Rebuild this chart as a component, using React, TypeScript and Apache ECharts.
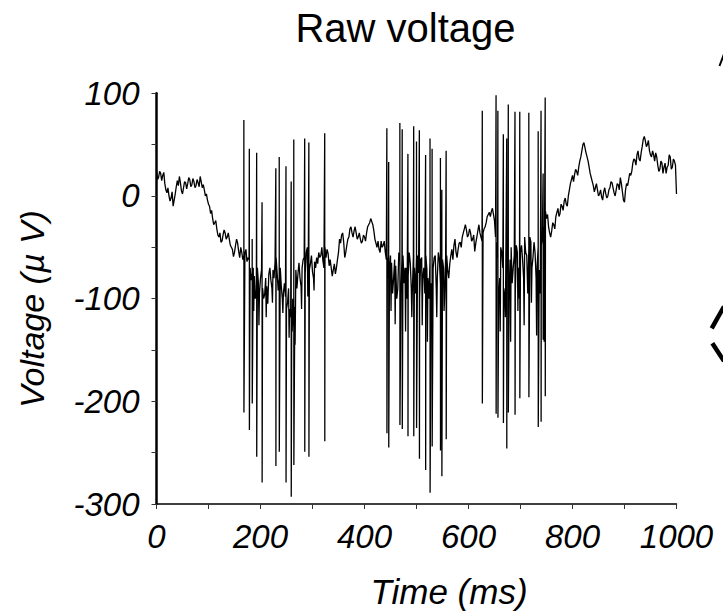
import React, { useEffect, useRef } from "react";
import * as echarts from "echarts";

// Baseline trace, [time ms, voltage µV]
const baseline: [number, number][] = [
  [0, 25], [4, 18], [8, 22], [12, 20], [16, 12], [20, 3], [24, 0], [28, -2], [32, -10], [36, 2],
  [40, 15], [44, 19], [48, 5], [52, 8], [56, 13], [60, 12], [64, 16], [68, 11], [72, 14], [76, 10],
  [80, 13], [84, 19], [88, 8], [92, 6], [96, 2], [100, -8], [104, -17], [108, -22], [112, -26], [116, -32],
  [120, -40], [124, -45], [128, -38], [132, -36], [136, -40], [140, -42], [144, -50], [148, -59], [152, -48], [156, -46],
  [160, -60], [164, -55], [168, -58], [172, -52], [176, -60], [180, -70], [184, -75], [188, -78], [192, -92], [196, -85],
  [200, -80], [204, -90], [208, -96], [212, -88], [216, -76], [220, -82], [224, -72], [228, -64], [232, -75], [236, -80],
  [240, -88], [244, -95], [248, -98], [252, -104], [256, -110], [260, -122], [264, -128], [268, -72], [272, -76], [276, -80],
  [280, -70], [284, -60], [288, -55], [292, -58], [296, -66], [300, -74], [304, -64], [308, -60], [312, -55], [316, -58],
  [320, -63], [324, -50], [328, -52], [332, -68], [336, -70], [340, -72], [344, -76], [348, -62], [352, -42], [356, -38],
  [360, -45], [364, -55], [368, -42], [372, -32], [376, -36], [380, -34], [384, -36], [388, -40], [392, -42], [396, -44],
  [400, -40], [404, -36], [408, -28], [412, -22], [416, -28], [420, -42], [424, -50], [428, -52], [432, -44], [436, -48],
  [440, -55], [444, -60], [448, -72], [452, -65], [456, -80], [460, -68], [464, -90], [468, -60], [472, -62], [476, -85],
  [480, -70], [484, -78], [488, -65], [492, -92], [496, -70], [500, -60], [504, -75], [508, -62], [512, -80], [516, -95],
  [520, -72], [524, -100], [528, -85], [532, -70], [536, -58], [540, -80], [544, -62], [548, -95], [552, -70], [556, -60],
  [560, -72], [564, -66], [568, -52], [572, -48], [576, -55], [580, -52], [584, -45], [588, -40], [592, -32], [596, -33],
  [600, -38], [604, -36], [608, -42], [612, -54], [616, -40], [620, -28], [624, -40], [628, -36], [632, -30], [636, -20],
  [640, -16], [644, -15], [648, -18], [652, -40], [656, -60], [660, -80], [664, -55], [668, -90], [672, -50], [676, -75],
  [680, -62], [684, -85], [688, -58], [692, -48], [696, -70], [700, -55], [704, -62], [708, -40], [712, -58], [716, -52],
  [720, -45], [724, -60], [728, -55], [732, -68], [736, -72], [740, -48], [744, -30], [748, -15], [752, -18], [756, -36],
  [760, -34], [764, -28], [768, -20], [772, -12], [776, -17], [780, -10], [784, -5], [788, -8], [792, 0], [796, 12],
  [800, 20], [804, 21], [808, 24], [812, 28], [816, 38], [820, 50], [824, 47], [828, 38], [832, 28], [836, 18],
  [840, 10], [844, 8], [848, 6], [852, 2], [856, -1], [860, 4], [864, 2], [868, 0], [872, 8], [876, 13],
  [880, 3], [884, 6], [888, 11], [892, 18], [896, 4], [900, -6], [904, 12], [908, 16], [912, 20], [916, 32],
  [920, 35], [924, 40], [928, 36], [932, 42], [936, 55], [940, 54], [944, 50], [948, 44], [952, 38], [956, 40],
  [960, 42], [964, 30], [968, 26], [972, 32], [976, 28], [980, 22], [984, 30], [988, 38], [992, 28], [996, 34],
  [998, 30], [1000, 2],
];

// In-between samples (t = 2, 6, 10, ... ms), the fast noise of the trace, [time ms, voltage µV]
const fineNoise: [number, number][] = [
  [2, 16], [6, 24], [10, 15], [14, 23], [18, 6], [22, 8], [26, -5], [30, 4], [34, -4], [38, 9],
  [42, 10], [46, 13], [50, 2], [54, 14], [58, 7], [62, 18], [66, 9], [70, 17], [74, 8], [78, 16],
  [82, 9], [86, 14], [90, 11], [94, 0], [98, -4], [102, -10], [106, -14], [110, -28], [114, -24], [118, -38],
  [122, -36], [126, -44], [130, -33], [134, -42], [138, -36], [142, -48], [146, -52], [150, -55], [154, -42], [158, -54],
  [162, -50], [166, -62], [170, -56], [174, -64], [178, -62], [182, -82], [186, -70], [190, -100], [194, -70], [198, -95],
  [202, -72], [206, -100], [210, -80], [214, -105], [218, -70], [222, -90], [226, -80], [230, -60], [234, -92], [238, -70],
  [242, -100], [246, -85], [250, -110], [254, -90], [258, -118], [262, -100], [266, -108], [270, -90], [274, -65], [278, -88],
  [282, -62], [286, -75], [290, -50], [294, -72], [298, -58], [302, -80], [306, -70], [310, -66], [314, -60], [318, -50],
  [322, -70], [326, -60], [330, -56], [334, -62], [338, -78], [342, -66], [346, -70], [350, -55], [354, -46], [358, -36],
  [362, -60], [366, -48], [370, -40], [374, -30], [378, -40], [382, -30], [386, -42], [390, -36], [394, -46], [398, -38],
  [402, -44], [406, -30], [410, -26], [414, -25], [418, -34], [422, -46], [426, -44], [430, -55], [434, -50], [438, -44],
  [442, -62], [446, -80], [450, -58], [454, -95], [458, -62], [462, -100], [466, -55], [470, -95], [474, -58], [478, -70],
  [482, -100], [486, -55], [490, -90], [494, -60], [498, -95], [502, -58], [506, -100], [510, -60], [514, -70], [518, -58],
  [522, -80], [526, -62], [530, -105], [534, -60], [538, -90], [542, -55], [546, -85], [550, -62], [554, -100], [558, -58],
  [562, -80], [566, -58], [570, -62], [574, -42], [578, -60], [582, -46], [586, -50], [590, -36], [594, -28], [598, -40],
  [602, -32], [606, -44], [610, -38], [614, -46], [618, -34], [622, -36], [626, -44], [630, -32], [634, -26], [638, -18],
  [642, -20], [646, -12], [650, -24], [654, -45], [658, -100], [662, -50], [666, -70], [670, -100], [674, -60], [678, -95],
  [682, -50], [686, -70], [690, -95], [694, -55], [698, -100], [702, -48], [706, -80], [710, -55], [714, -95], [718, -40],
  [722, -70], [726, -45], [730, -80], [734, -50], [738, -95], [742, -40], [746, -60], [750, -22], [754, -30], [758, -40],
  [762, -26], [766, -32], [770, -16], [774, -20], [778, -8], [782, -14], [786, -2], [790, -10], [794, 6], [798, 16],
  [802, 14], [806, 26], [810, 20], [814, 34], [818, 44], [822, 52], [826, 42], [830, 34], [834, 22], [838, 14],
  [842, 4], [846, 12], [850, 0], [854, 6], [858, -4], [862, 8], [866, -2], [870, 6], [874, 14], [878, 8],
  [882, 0], [886, 12], [890, 6], [894, 12], [898, -4], [902, 6], [906, 10], [910, 22], [914, 24], [918, 36],
  [922, 30], [926, 44], [930, 34], [934, 48], [938, 58], [942, 48], [946, 54], [950, 40], [954, 44], [958, 34],
  [962, 38], [966, 24], [970, 34], [974, 22], [978, 32], [982, 28], [986, 40], [990, 26], [994, 36],
];

// Small downward deflections inside the bursts, [time ms, voltage µV]
const minorSpikes: [number, number][] = [
  [187, -112], [197, -126], [211, -118], [223, -104], [243, -114], [255, -138], [261, -132], [266.5, -145],
  [279, -110], [291, -98], [303, -92],
  [451, -112], [459, -125], [479, -132], [491, -118], [511, -126], [521, -142], [539, -118], [553, -112],
  [661, -132], [671, -118], [681, -142], [695, -112], [707, -126], [721, -104], [731, -136], [745.5, -142],
];

// Action potentials, [time ms, peak µV, trough µV]
const spikes: [number, number, number][] = [
  [168, 74, -211], [178.5, 46, -228], [184, -42, -202], [192.6, 42, -254], [203, -6, -279],
  [229.5, 27, -263], [236, 38, -249], [249, 29, -279], [259, 14, -293], [264, 55, -262],
  [285, 56, -249], [293, 52, -254], [323.5, 61, -239],
  [443, 66, -231], [446.5, 33, -245], [468, 71, -223], [472.5, 65, -227], [483.5, 41, -234],
  [494.6, 68, -234], [500, 53, -226], [505.5, 64, -256], [517.5, 40, -267], [526, 56, -289],
  [530, 46, -244], [546, 37, -248], [548.7, 6, -273], [557, 44, -237],
  [626.5, 83, -202], [653, 98, -212], [656.5, 83, -216], [667, 60, -221], [673.5, 56, -246],
  [676.5, 89, -211], [689.4, 82, -213], [698.6, 82, -197], [716, 81, -196], [734, 63, -225],
  [739.5, 83, -220], [743.5, 22, -140], [747.5, 96, -195],
];

const xTicks = { min: 0, max: 1000, step: 100, labelEvery: 200 };
const yTicks = { min: -300, max: 100, step: 50, labelEvery: 100 };

function buildTrace(): [number, number][] {
  const pts: [number, number][] = [];
  baseline.forEach((p) => pts.push([p[0], p[1]]));
  fineNoise.forEach((p) => pts.push([p[0], p[1]]));
  minorSpikes.forEach((p) => pts.push([p[0], p[1]]));
  spikes.forEach((s) => {
    pts.push([s[0], s[1]]);
    pts.push([s[0] + 0.15, s[2]]);
  });
  return pts.sort((a, b) => a[0] - b[0]);
}

const FONT = "'Liberation Sans', Arial, Helvetica, sans-serif";

export default function App() {
  const ref = useRef<HTMLDivElement>(null);
  useEffect(() => {
    if (!ref.current) return;
    const chart = echarts.init(ref.current, null, { renderer: "svg" });
    const tickLabel = {
      fontSize: 33,
      fontStyle: "italic" as const,
      fontFamily: FONT,
      color: "#000",
    };
    chart.setOption({
      animation: false,
      backgroundColor: "#fff",
      grid: { left: 156.5, right: 46.5, top: 93.3, bottom: 110 },
      xAxis: {
        type: "value",
        min: xTicks.min,
        max: xTicks.max,
        interval: xTicks.step,
        axisLine: { show: true, onZero: false, lineStyle: { color: "#000", width: 1.5 } },
        axisTick: { show: true, length: 5, lineStyle: { color: "#333", width: 1 } },
        splitLine: { show: false },
        axisLabel: {
          ...tickLabel,
          margin: 16,
          showMinLabel: true,
          showMaxLabel: true,
          formatter: (v: number) => (v % xTicks.labelEvery === 0 ? String(v) : ""),
        },
      },
      yAxis: {
        type: "value",
        min: yTicks.min,
        max: yTicks.max,
        interval: yTicks.step,
        axisLine: { show: true, onZero: false, lineStyle: { color: "#000", width: 2.5 } },
        axisTick: { show: true, length: 5, lineStyle: { color: "#333", width: 1 } },
        splitLine: { show: false },
        axisLabel: {
          ...tickLabel,
          margin: 17,
          showMinLabel: true,
          showMaxLabel: true,
          formatter: (v: number) => (v % yTicks.labelEvery === 0 ? String(v) : ""),
        },
      },
      series: [
        {
          type: "line",
          data: buildTrace(),
          showSymbol: false,
          symbol: "none",
          lineStyle: { color: "#000", width: 1.3 },
        },
      ],
      graphic: [
        {
          type: "text",
          style: {
            text: "Raw voltage",
            x: 405.5,
            y: 28,
            align: "center",
            verticalAlign: "middle",
            font: `40px ${FONT}`,
            fill: "#000",
          },
        },
        {
          type: "text",
          style: {
            text: "Time (ms)",
            x: 449,
            y: 591,
            align: "center",
            verticalAlign: "middle",
            font: `italic 35px ${FONT}`,
            fill: "#000",
          },
        },
        {
          type: "text",
          x: 32,
          y: 309,
          rotation: Math.PI / 2,
          style: {
            text: "Voltage (µ V)",
            x: 0,
            y: 0,
            align: "center",
            verticalAlign: "middle",
            font: `italic 34px ${FONT}`,
            fill: "#000",
          },
        },
        {
          type: "line",
          shape: { x1: 711.7, y1: 328.3, x2: 724, y2: 306.5 },
          style: { stroke: "#000", lineWidth: 4.5 },
        },
        {
          type: "line",
          shape: { x1: 712.3, y1: 343.3, x2: 724, y2: 361 },
          style: { stroke: "#000", lineWidth: 4.5 },
        },
        {
          type: "line",
          shape: { x1: 719.5, y1: 66, x2: 724, y2: 54 },
          style: { stroke: "#000", lineWidth: 2 },
        },
      ],
    });
    return () => chart.dispose();
  }, []);
  return (
    <div
      ref={ref}
      style={{ position: "fixed", left: 0, top: 0, width: 723, height: 614, background: "#fff" }}
    />
  );
}
